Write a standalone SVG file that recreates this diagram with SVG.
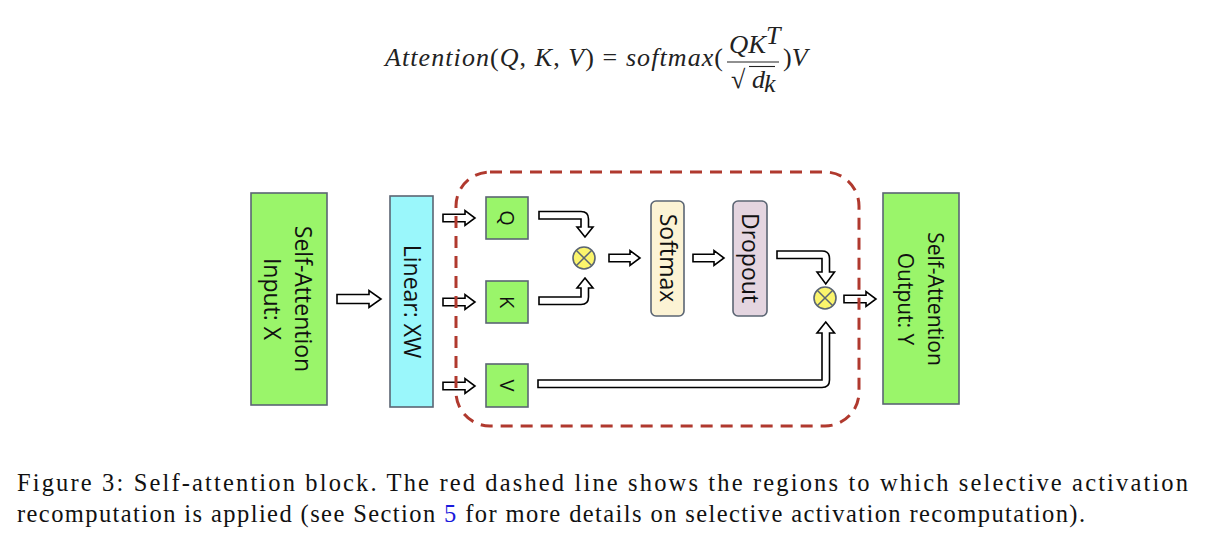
<svg xmlns="http://www.w3.org/2000/svg" width="1205" height="537" viewBox="0 0 1205 537">
<defs>
<style>
.box{stroke:#5b6573;stroke-width:1.6}
.green{fill:#9af56a}
.lbl{font-family:"Open Sans","Liberation Sans",sans-serif;fill:#111;text-anchor:middle}
.arr{fill:#fff;stroke:#000;stroke-width:1.6;stroke-linejoin:miter}
.mul{fill:#fbf56c;stroke:#5b6573;stroke-width:1.6}
.x{stroke:#5b6573;stroke-width:1.5}
.math{font-family:"Liberation Serif","DejaVu Serif",serif;font-size:26px;fill:#222}
.cap{font-family:"Liberation Serif","DejaVu Serif",serif;font-size:24.5px;fill:#111}
</style>
</defs>
<rect width="1205" height="537" fill="#fff"/>

<g id="formula">
<text class="math" x="385" y="66" textLength="338" lengthAdjust="spacing"><tspan font-style="italic">Attention</tspan>(<tspan font-style="italic">Q</tspan>, <tspan font-style="italic">K</tspan>, <tspan font-style="italic">V</tspan>) = <tspan font-style="italic">softmax</tspan>(</text>
<text class="math" x="729" y="53" font-style="italic" textLength="37" lengthAdjust="spacingAndGlyphs">QK</text>
<text class="math" x="766" y="44" font-style="italic" font-size="17">T</text>
<line x1="727" y1="62" x2="779" y2="62" stroke="#222" stroke-width="1.1"/>
<text class="math" x="731" y="88" font-size="28">√</text>
<line x1="749" y1="66.5" x2="775" y2="66.5" stroke="#222" stroke-width="1.1"/>
<text class="math" x="752" y="88" font-style="italic" font-size="23">d</text>
<text class="math" x="764" y="92" font-style="italic" font-size="16">k</text>
<text class="math" x="783" y="66">)<tspan font-style="italic">V</tspan></text>
</g>

<g id="connectors">
<path class="arr" d="M337,294.5 H369 V290.5 L381,299 L369,307.5 V303.5 H337 Z"/>
<path class="arr" d="M443,214.25 H465 V210.5 L475,218 L465,225.5 V221.75 H443 Z"/>
<path class="arr" d="M443,298.25 H465 V294.5 L475,302 L465,309.5 V305.75 H443 Z"/>
<path class="arr" d="M443,382.25 H465 V378.5 L475,386 L465,393.5 V389.75 H443 Z"/>
<path class="arr" d="M539,211.5 H581 Q588.5,211.5 588.5,219 V227 H593 L585,237 L577,227 H581 V219 H539 Z"/>
<path class="arr" d="M539,297 H581 V288 H577 L585,278 L593,288 H588.5 V297 Q588.5,304.5 581,304.5 H539 Z"/>
<path class="arr" d="M609,254.25 H630 V250.5 L640,258 L630,265.5 V261.75 H609 Z"/>
<path class="arr" d="M693,254.25 H714 V250.5 L724,258 L714,265.5 V261.75 H693 Z"/>
<path class="arr" d="M777,251 H822 Q829.5,251 829.5,258.5 V272 H834.5 L825.75,284 L817,272 H822 V258.5 H777 Z"/>
<path class="arr" d="M538,380 H822 V333 H817 L825.75,322 L834.5,333 H829.5 V380 Q829.5,387.5 822,387.5 H538 Z"/>
<path class="arr" d="M844,295.25 H866 V291.5 L876,299 L866,306.5 V302.75 H844 Z"/>
</g>

<g id="input">
<rect class="box green" x="251" y="193" width="76" height="212"/>
<text class="lbl" font-size="23" transform="translate(289,299) rotate(90)"><tspan x="0" y="-6">Self-Attention</tspan><tspan x="0" y="25">Input: X</tspan></text>
</g>

<g id="linear">
<rect class="box" fill="#9af7fb" x="390" y="196" width="43" height="211"/>
<text class="lbl" font-size="23" transform="translate(411.5,301.5) rotate(90)" x="0" y="8">Linear: XW</text>
</g>

<g id="q">
<rect class="box green" x="486" y="197" width="42" height="42"/>
<text class="lbl" font-size="20" transform="translate(507,218) rotate(90)" x="0" y="7">Q</text>
</g>
<g id="k">
<rect class="box green" x="486" y="281" width="42" height="42"/>
<text class="lbl" font-size="20" transform="translate(507,302) rotate(90)" x="0" y="7">K</text>
</g>
<g id="v">
<rect class="box green" x="486" y="364" width="42" height="43"/>
<text class="lbl" font-size="20" transform="translate(507,385.5) rotate(90)" x="0" y="7">V</text>
</g>

<g id="mul1">
<circle class="mul" cx="584" cy="258" r="11"/>
<line class="x" x1="576.2" y1="250.2" x2="591.8" y2="265.8"/>
<line class="x" x1="591.8" y1="250.2" x2="576.2" y2="265.8"/>
</g>

<g id="softmax">
<rect class="box" fill="#fcf3d4" x="651" y="201" width="33" height="115" rx="5"/>
<text class="lbl" font-size="23" transform="translate(667.5,258) rotate(90)" x="0" y="8">Softmax</text>
</g>

<g id="dropout">
<rect class="box" fill="#e4d5e0" x="733" y="201" width="34" height="115" rx="5"/>
<text class="lbl" font-size="23" transform="translate(750,258) rotate(90)" x="0" y="8">Dropout</text>
</g>

<g id="mul2">
<circle class="mul" cx="825" cy="298" r="11"/>
<line class="x" x1="817.2" y1="290.2" x2="832.8" y2="305.8"/>
<line class="x" x1="832.8" y1="290.2" x2="817.2" y2="305.8"/>
</g>

<g id="output">
<rect class="box green" x="883" y="193" width="76" height="211"/>
<text class="lbl" font-size="21" transform="translate(921,299) rotate(90)"><tspan x="0" y="-7">Self-Attention</tspan><tspan x="0" y="23">Output: Y</tspan></text>
</g>

<g id="recompute-region">
<rect x="456" y="172" width="403" height="254" rx="34" fill="none" stroke="#b0392e" stroke-width="3" stroke-dasharray="12 8"/>
</g>

<g id="caption">
<text class="cap" x="17" y="491" textLength="1171" lengthAdjust="spacing">Figure 3: Self-attention block. The red dashed line shows the regions to which selective activation</text>
<text class="cap" x="17" y="522" textLength="1068" lengthAdjust="spacing">recomputation is applied (see Section <tspan fill="#1a1adc">5</tspan> for more details on selective activation recomputation).</text>
</g>
</svg>
